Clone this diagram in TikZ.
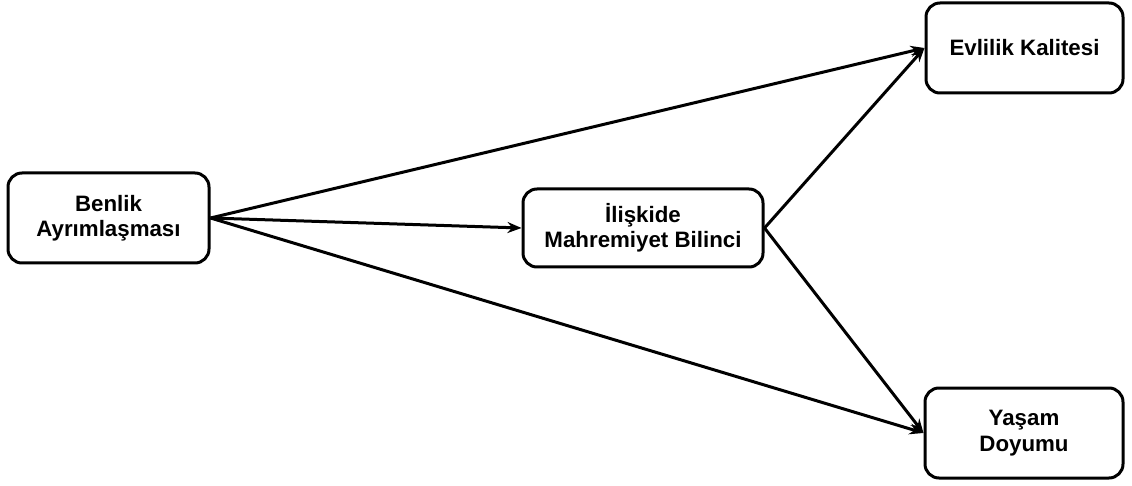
\documentclass[tikz,border=0pt]{standalone}
\usepackage{fontspec}
\setmainfont{Liberation Sans}
\usetikzlibrary{arrows.meta}
\begin{document}
\begin{tikzpicture}[x=1pt,y=-1pt,
  box/.style={draw, line width=3pt, rounded corners=14pt, align=center, inner sep=0pt,
    font=\fontsize{22.3}{25.5}\selectfont\bfseries},
  conn/.style={line width=3pt, -{Stealth[length=14pt,width=11pt]}}]
\useasboundingbox (0,0) rectangle (1132,486);
\node[box, minimum width=201pt, minimum height=90pt] (ben) at (108.5,218) {Benlik\\Ayrımlaşması};
\node[box, minimum width=240pt, minimum height=78pt] (mah) at (643,228) {İlişkide\\Mahremiyet Bilinci};
\node[box, minimum width=197pt, minimum height=90pt] (evl) at (1024.5,48) {Evlilik Kalitesi};
\node[box, minimum width=198pt, minimum height=90pt] (yas) at (1024,433) {Yaşam\\Doyumu};
\draw[conn] (ben.east) -- (mah.west);
\draw[conn] (ben.east) -- (evl.west);
\draw[conn] (ben.east) -- (yas.west);
\draw[conn] (mah.east) -- (evl.west);
\draw[conn] (mah.east) -- (yas.west);
\end{tikzpicture}
\end{document}
